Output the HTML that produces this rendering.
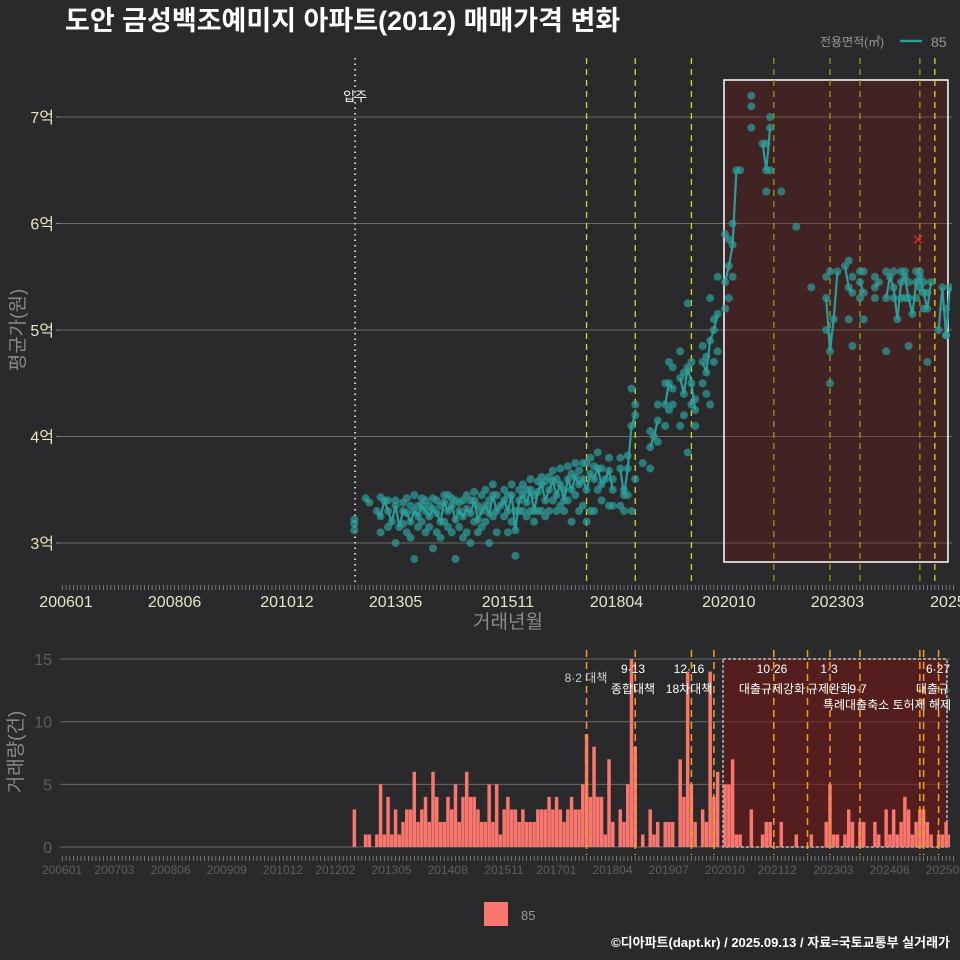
<!DOCTYPE html>
<html><head><meta charset="utf-8">
<style>
html,body{margin:0;padding:0;background:#2a2a2c;}
svg{display:block;font-family:"Liberation Sans","Noto Sans CJK KR",sans-serif;}
</style></head>
<body>
<svg id="chart" width="960" height="960" viewBox="0 0 960 960">
<rect x="0" y="0" width="960" height="960" fill="#2a2a2c"/>
<defs>
<clipPath id="topClip"><rect x="60" y="55" width="892" height="530"/></clipPath>
<clipPath id="botClip"><rect x="60" y="650" width="890" height="205"/></clipPath>
</defs>
<text x="65" y="30" font-size="27" font-weight="bold" fill="#ffffff">도안 금성백조예미지 아파트(2012) 매매가격 변화</text>
<g>
<text x="820" y="46" font-size="12" fill="#9a9a9a">전용면적(㎡)</text>
<line x1="900" y1="41" x2="922" y2="41" stroke="#2a9d9b" stroke-width="2.5"/>
<text x="931" y="47" font-size="14" fill="#9a9a9a">85</text>
</g>
<g id="topPanel"></g>
<g id="botPanel"></g>
<g>
<rect x="484" y="902" width="24" height="24" fill="#f8766d"/>
<text x="521" y="920" font-size="13" fill="#9a9a9a">85</text>
</g>
<text x="950" y="947" font-size="13" font-weight="bold" fill="#ffffff" text-anchor="end">©디아파트(dapt.kr) / 2025.09.13 / 자료=국토교통부 실거래가</text>
</svg>
<script>
// months indexed from 2006-01 (m=0); data series start at m=77
const startMonth = 77;
const counts = [3,0,0,1,1,0,1,5,1,4, 1,3,1,2,3,3,6,2,3,4, 2,6,4,2,2,4,3,5,2,4, 6,4,4,3,2,2,5,2,5,1,
 3,4,3,3,2,3,2,2,2,3, 3,3,4,3,4,3,2,3,4,3, 3,5,9,4,8,4,4,1,7,2, 0,3,2,5,15,8,0,1,0,3,
 1,2,0,2,2,2,0,7,4,14, 5,2,0,3,2,14,4,6,0,5, 5,7,1,1,0,0,3,0,0,1, 2,2,0,0,2,0,0,0,1,0,
 0,0,1,0,0,0,2,5,1,1, 0,1,3,2,0,2,2,0,0,2, 1,0,3,1,3,1,2,4,3,1, 2,3,3,2,1,0,1,1,2,1];
const n = null;
const meanPrice = [3.18,n,n,3.42,3.38,n,3.3,3.25,3.4,3.3, 3.2,3.35,3.15,3.3,3.28,3.2,3.3,3.25,3.35,3.3,
 3.25,3.32,3.28,3.2,3.38,3.3,3.35,3.22,3.3,3.25, 3.32,3.28,3.4,3.22,3.3,3.35,3.28,3.45,3.3,3.35,
 3.4,3.3,3.45,3.12,3.4,3.45,3.38,3.5,3.3,3.48, 3.55,3.4,3.5,3.58,3.45,3.55,3.4,3.6,3.5,3.62,
 3.55,3.6,3.5,3.65,3.6,3.7,3.55,3.6,3.68,3.5, n,3.7,3.45,3.7,4.1,4.2,n,3.75,n,3.9,
 4.0,4.15,n,4.3,4.5,4.45,n,4.55,4.4,4.65, 4.5,4.25,n,4.7,4.6,4.9,5.0,5.15,n,5.45,
 5.6,5.8,6.5,6.5,n,n,7.1,n,n,6.75, 6.5,6.9,n,n,6.3,n,n,n,5.97,n,
 n,n,5.4,n,n,n,5.3,4.8,5.1,5.55, n,5.6,5.4,5.35,n,5.45,5.35,n,n,5.4,
 5.45,n,5.3,5.5,5.4,5.1,5.45,5.5,5.3,5.15, 5.45,5.5,5.35,5.2,5.45,n,5.0,5.4,4.95,5.4];
const lowPrice = [3.12,n,n,n,n,n,n,3.1,n,3.15, n,3.0,n,3.18,3.1,3.05,2.85,3.15,3.2,3.1,
 3.15,2.95,3.1,3.05,3.2,3.15,3.1,2.85,3.15,3.05, 3.1,3.0,3.2,3.1,3.15,3.2,3.0,3.25,3.1,n,
 3.25,3.1,3.2,2.88,3.3,3.3,3.25,3.3,3.2,3.3, 3.3,3.25,3.3,3.4,3.3,3.35,3.3,3.4,3.2,3.45,
 3.3,3.35,3.2,3.3,3.3,3.5,3.4,n,3.35,3.35, n,3.35,3.3,3.45,3.3,3.6,n,n,n,3.7,
 n,3.95,n,4.1,4.25,4.3,n,4.1,4.2,3.85, 4.3,4.1,n,4.5,4.4,4.3,4.7,4.8,n,5.2,
 5.3,5.5,n,n,n,n,6.9,n,n,n, 6.3,6.5,n,n,n,n,n,n,n,n,
 n,n,n,n,n,n,5.0,4.5,n,n, n,n,5.1,4.85,n,5.3,5.1,n,n,5.3,
 n,n,4.8,n,5.3,n,5.3,5.3,4.85,n, 5.3,5.4,5.2,4.7,n,n,n,n,4.95,n];
const highPrice = [3.22,n,n,n,n,n,n,3.43,n,3.4, n,3.4,n,3.38,3.42,3.35,3.45,3.35,3.42,3.4,
 3.35,3.42,3.4,3.35,3.45,3.45,3.42,3.4,3.38,3.4, 3.45,3.4,3.48,3.35,3.45,3.5,3.4,3.55,3.45,n,
 3.5,3.45,3.55,3.3,3.5,3.55,3.5,3.6,3.45,3.58, 3.62,3.58,3.62,3.68,3.6,3.7,3.5,3.72,3.65,3.75,
 3.68,3.75,3.75,3.8,3.72,3.85,3.7,n,3.8,3.6, n,3.8,3.5,3.82,4.45,4.3,n,n,n,4.05,
 n,4.3,n,4.5,4.7,4.65,n,4.8,4.6,5.25, 4.7,4.35,n,4.85,4.75,5.3,5.1,5.5,n,5.9,
 5.85,6.0,n,n,n,n,7.2,n,n,n, 6.75,7.0,n,n,n,n,n,n,n,n,
 n,n,n,n,n,n,5.5,5.55,n,n, n,n,5.65,5.5,n,5.55,5.55,n,n,5.5,
 n,n,5.55,n,5.55,n,5.55,5.55,5.45,n, 5.55,5.55,5.45,5.35,n,n,n,n,5.2,n];
const topTickLabels = ["200601","200806","201012","201305","201511","201804","202010","202303","2025"];
const topTickMonths = [0,29,59,88,118,147,177,206,235.5];
const botTickLabels = ["200601","200703","200806","200909","201012","201202","201305","201408","201511","201701","201804","201907","202010","202112","202303","202406","202509"];
const botTickMonths = [0,14,29,44,59,73,88,103,118,132,147,162,177,191,206,221,236];
const priceTicks = [3,4,5,6,7];
const priceTickLabels = ["3억","4억","5억","6억","7억"];
const countTicks = [0,5,10,15];
const policyMonths = [139,152,167,173,189,198,204,212,228,229,233];
const topPolicyMonths = [139,152,167,189,204,212,228,232];
const movedInMonth = 77.2;
const boxStartMonth = 175.7;
const boxEndMonth = 235.5;
const highlightMonth = 227.5, highlightPrice = 5.85;

const NS = "http://www.w3.org/2000/svg";
const xM = m => 66 + 3.745 * m;
const yP = p => 543 - (p - 3) * 106.5;
const yC = c => 847 - c * 12.53;
function mk(tag, attrs, parent, txt){
  const e = document.createElementNS(NS, tag);
  for (const k in attrs) e.setAttribute(k, attrs[k]);
  if (txt !== undefined) e.textContent = txt;
  parent.appendChild(e);
  return e;
}
const topG = document.getElementById('topPanel');
const botG = document.getElementById('botPanel');





// ---- top panel ----
const tg = mk('g', {'clip-path':'url(#topClip)'}, topG);


priceTicks.forEach((p, i) => {
  const gl = mk('line', {x1:60, x2:952, y1:yP(p), y2:yP(p), stroke:'#6a6a6a', 'stroke-width':1}, tg);
  
  
  const tk = mk('line', {x1:56, x2:60, y1:yP(p), y2:yP(p), stroke:'#8a8a8a'}, topG);
  
  
  const lb = mk('text', {x:54, y:yP(p)+6, 'font-size':16, fill:'#e9e4c4', 'text-anchor':'end'}, topG, priceTickLabels[i]);
  
  
});
const box = mk('rect', {x:xM(boxStartMonth), y:80, width:xM(boxEndMonth)-xM(boxStartMonth), height:482, fill:'rgba(120,20,20,0.3)', stroke:'#ffffff', 'stroke-width':1.5}, tg);


const mv = mk('line', {x1:xM(movedInMonth), x2:xM(movedInMonth), y1:58, y2:585, stroke:'#cfcfcf', 'stroke-width':2, 'stroke-dasharray':'1.5 4'}, tg);


const mvl = mk('text', {x:xM(movedInMonth), y:101, 'font-size':13, fill:'#ffffff', 'text-anchor':'middle'}, topG, '입주');


topPolicyMonths.forEach(m => {
  const inBox = m > boxStartMonth && m < 231;
  const l = mk('line', {x1:xM(m), x2:xM(m), y1:58, y2:585, stroke: inBox ? '#9a9a1a' : '#d8d820', 'stroke-width':1.3, 'stroke-dasharray':'6 5'}, tg);
  
  
});
let d = '', pen = false;
meanPrice.forEach((p, i) => {
  if (p === null) { pen = false; return; }
  d += (pen ? 'L' : 'M') + xM(startMonth + i).toFixed(1) + ' ' + yP(p).toFixed(1) + ' ';
  pen = true;
});
const pl = mk('path', {d:d, fill:'none', stroke:'#2a9d9b', 'stroke-width':2.2}, tg);


[lowPrice, highPrice, meanPrice].forEach(arr => {
  arr.forEach((p, i) => {
    if (p === null) return;
    const c = mk('circle', {cx:xM(startMonth + i), cy:yP(p), r:4, fill:'rgba(45,160,155,0.7)'}, tg);
    
    
  });
});
const hx = xM(highlightMonth), hy = yP(highlightPrice);
const xm = mk('path', {d:`M${hx-4} ${hy-4}L${hx+4} ${hy+4}M${hx-4} ${hy+4}L${hx+4} ${hy-4}`, stroke:'#e0202a', 'stroke-width':1.5}, tg);


for (let m = -1; m <= 237; m++) {
  const t = mk('line', {x1:xM(m), x2:xM(m), y1:585, y2:590, stroke:'#8a8a8a', 'stroke-width':0.8}, topG);
  
  
}
topTickLabels.forEach((s, i) => {
  const t = mk('text', {x:xM(topTickMonths[i]), y:607, 'font-size':16, fill:'#e9e4c4', 'text-anchor':'middle'}, topG, s);
  
  
});
const xt = mk('text', {x:508, y:628, 'font-size':19, fill:'#8a8a8a', 'text-anchor':'middle'}, topG, '거래년월');


const yt = mk('text', {x:0, y:0, 'font-size':19, fill:'#8a8a8a', 'text-anchor':'middle', transform:'translate(24 330) rotate(-90)'}, topG, '평균가(원)');



// ---- bottom panel ----
const bg = mk('g', {'clip-path':'url(#botClip)'}, botG);


countTicks.forEach(c => {
  const gl = mk('line', {x1:60, x2:950, y1:yC(c), y2:yC(c), stroke:'#6a6a6a', 'stroke-width':1}, bg);
  
  
  const lb = mk('text', {x:52, y:yC(c)+6, 'font-size':16, fill:'#5e5e5e', 'text-anchor':'end'}, botG, String(c));
  
  
});
const bbox = mk('rect', {x:xM(boxStartMonth)-1, y:yC(15), width:xM(boxEndMonth)-xM(boxStartMonth), height:yC(0)-yC(15), fill:'rgba(120,20,20,0.55)', stroke:'#bdbdbd', 'stroke-width':1.5, 'stroke-dasharray':'3 2'}, bg);


counts.forEach((c, i) => {
  if (!c) return;
  const x = xM(startMonth + i);
  const r = mk('rect', {x:x-1.75, y:yC(c), width:3.5, height:yC(0)-yC(c), fill:'#f8766d'}, bg);
  
  
});
policyMonths.forEach(m => {
  const l = mk('line', {x1:xM(m), x2:xM(m), y1:650, y2:856, stroke:'#f0a020', 'stroke-width':1.5, 'stroke-dasharray':'7 5'}, bg);
  
  
});
const notes = [
  ['8·2 대책', 586, 682, '#cfcfcf'], ['9·13', 633, 673, '#fff'], ['종합대책', 633, 693, '#fff'],
  ['12·16', 689, 673, '#fff'], ['18차대책', 689, 693, '#fff'],
  ['10·26', 772, 673, '#fff'], ['대출규제강화', 772, 693, '#fff'],
  ['1·3', 829, 673, '#fff'], ['규제완화', 829, 693, '#fff'],
  ['9·7', 858, 693, '#fff'], ['특례대출축소 토허제 해제', 887, 709, '#fff'],
  ['6·27', 938, 673, '#fff'], ['대출규제', 938, 693, '#fff']
];
notes.forEach(a => {
  const t = mk('text', {x:a[1], y:a[2], 'font-size':12, fill:a[3], 'text-anchor':'middle'}, bg, a[0]);
  
  
});
for (let m = -1; m <= 237; m++) {
  const t = mk('line', {x1:xM(m), x2:xM(m), y1:856, y2:861, stroke:'#8a8a8a', 'stroke-width':0.8}, botG);
  
  
}
botTickLabels.forEach((s, i) => {
  const t = mk('text', {x:xM(botTickMonths[i]) - 4, y:874, 'font-size':12, fill:'#5e5e5e', 'text-anchor':'middle'}, botG, s);
  
  
});
const yt2 = mk('text', {x:0, y:0, 'font-size':19, fill:'#8a8a8a', 'text-anchor':'middle', transform:'translate(22 752) rotate(-90)'}, botG, '거래량(건)');


</script>
</body></html>
